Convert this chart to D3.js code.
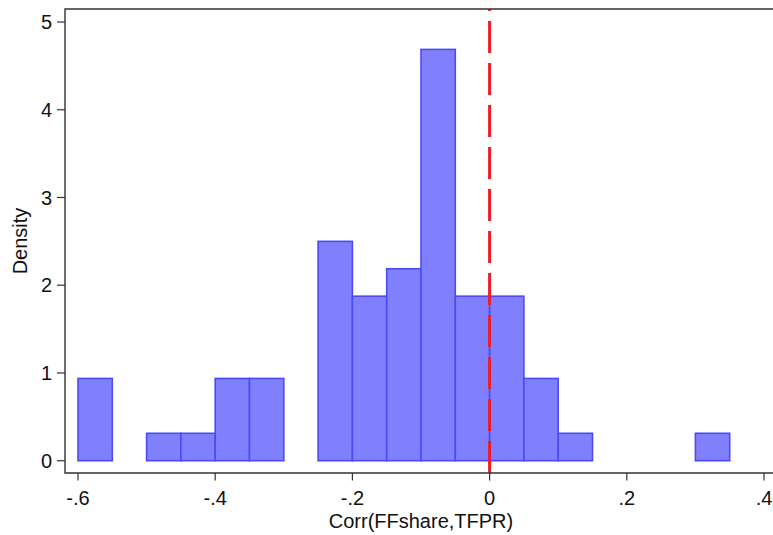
<!DOCTYPE html>
<html>
<head>
<meta charset="utf-8">
<script src="https://cdn.jsdelivr.net/npm/d3@7"></script>
<style>
  body { margin: 0; background: #fff; }
  text { font-family: "Liberation Sans", Arial, sans-serif; fill: #111; }
</style>
</head>
<body>
<div id="chart"></div>
<script>
"use strict";

// histogram bins (left edge, density), bin width .05
const binStarts = [-0.6, -0.5, -0.45, -0.4, -0.35, -0.25, -0.2, -0.15, -0.1, -0.05, 0, 0.05, 0.1, 0.3];
const densities = [0.9375, 0.3125, 0.3125, 0.9375, 0.9375, 2.5, 1.875, 2.1875, 4.6875, 1.875, 1.875, 0.9375, 0.3125, 0.3125];
const binWidth = 0.05;
const xTicks = [-0.6, -0.4, -0.2, 0, 0.2, 0.4];
const xTickLabels = ["-.6", "-.4", "-.2", "0", ".2", ".4"];
const yTicks = [0, 1, 2, 3, 4, 5];
const refLine = 0;

const W = 773, H = 535;
const frameLeft = 65, frameTop = 9, frameBottom = 473;

const x = d3.scaleLinear().domain([-0.6, 0.4]).range([78, 764]);
const y = d3.scaleLinear().domain([0, 5]).range([460.7, 22]);

const svg = d3.select("#chart").append("svg")
	.attr("width", W)
	.attr("height", H);

// bars
svg.selectAll("rect.bar")
	.data(binStarts.map((b, i) => ({start: b, d: densities[i]})))
	.enter()
	.append("rect")
	.attr("class", "bar")
	.attr("x", d => x(d.start))
	.attr("y", d => y(d.d))
	.attr("width", d => x(d.start + binWidth) - x(d.start))
	.attr("height", d => y(0) - y(d.d))
	.style("fill", "#8080ff")
	.style("stroke", "#4b4bf5")
	.style("stroke-width", 1.6);

// reference line at 0, drawn from bottom up so dashes line up like the original
svg.append("line")
	.attr("x1", x(refLine)).attr("x2", x(refLine))
	.attr("y1", frameBottom).attr("y2", frameTop)
	.style("stroke", "#ee1c2a")
	.style("stroke-width", 3)
	.style("stroke-dasharray", "32,10");

// frame (right edge falls outside the picture)
svg.append("path")
	.attr("d", `M${W + 5},${frameTop}H${frameLeft}V${frameBottom}H${W + 5}`)
	.style("fill", "none")
	.style("stroke", "#333")
	.style("stroke-width", 1.4);

// x axis ticks
const xg = svg.append("g");
xg.selectAll("line")
	.data(xTicks)
	.enter()
	.append("line")
	.attr("x1", d => x(d)).attr("x2", d => x(d))
	.attr("y1", frameBottom).attr("y2", frameBottom + 7.5)
	.style("stroke", "#333")
	.style("stroke-width", 1.2);
xg.selectAll("text")
	.data(xTicks)
	.enter()
	.append("text")
	.attr("x", d => x(d))
	.attr("y", 504.5)
	.attr("text-anchor", "middle")
	.style("font-size", "20px")
	.text((d, i) => xTickLabels[i]);

// y axis ticks
const yg = svg.append("g");
yg.selectAll("line")
	.data(yTicks)
	.enter()
	.append("line")
	.attr("x1", frameLeft - 8).attr("x2", frameLeft)
	.attr("y1", d => y(d)).attr("y2", d => y(d))
	.style("stroke", "#333")
	.style("stroke-width", 1.2);
yg.selectAll("text")
	.data(yTicks)
	.enter()
	.append("text")
	.attr("x", 52)
	.attr("y", d => y(d))
	.attr("dy", "0.36em")
	.attr("text-anchor", "end")
	.style("font-size", "20px")
	.text(d => d);

// axis titles
svg.append("text")
	.attr("x", 421)
	.attr("y", 528)
	.attr("text-anchor", "middle")
	.style("font-size", "20px")
	.text("Corr(FFshare,TFPR)");

svg.append("text")
	.attr("transform", "translate(27,241) rotate(-90)")
	.attr("text-anchor", "middle")
	.style("font-size", "20px")
	.text("Density");
</script>
</body>
</html>
